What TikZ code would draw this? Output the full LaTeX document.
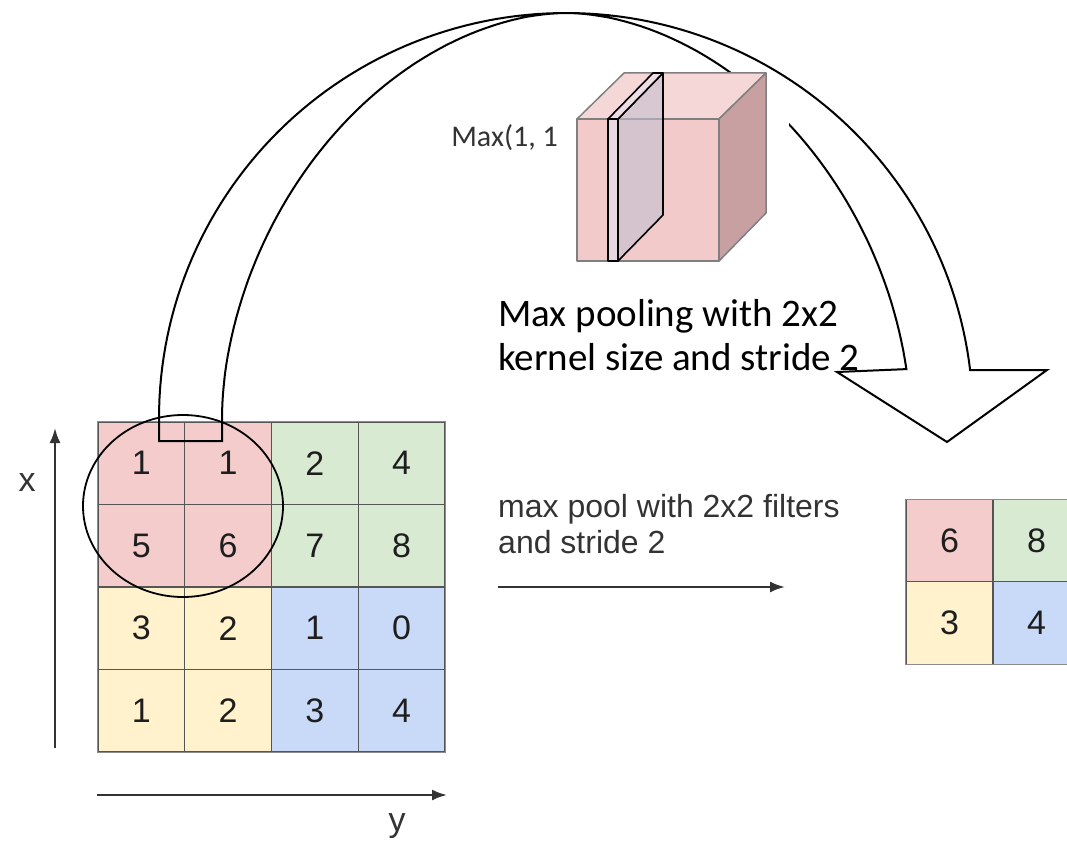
\documentclass[tikz,border=0pt]{standalone}
\usepackage{fontspec}
\setmainfont{Liberation Sans}
\newfontfamily\calibri{Carlito}
\usetikzlibrary{arrows.meta,shapes.geometric}

\definecolor{cellred}{HTML}{F4CCCC}
\definecolor{cellgreen}{HTML}{D9EAD3}
\definecolor{cellyellow}{HTML}{FFF2CC}
\definecolor{cellblue}{HTML}{C9DAF8}
\definecolor{gridline}{HTML}{555555}
\definecolor{gridframe}{HTML}{8C8C8C}
\definecolor{digit}{HTML}{1E1E1E}
\definecolor{cubefront}{HTML}{F2CACA}
\definecolor{cubetop}{HTML}{F6D7D7}
\definecolor{cubeside}{HTML}{C8A0A2}
\definecolor{cubeedge}{HTML}{7F7F7F}
\definecolor{platefront}{HTML}{E8D5E1}
\definecolor{platetop}{HTML}{EEDDE5}
\definecolor{plateside}{HTML}{C3BFCF}
\definecolor{note}{HTML}{333333}

\begin{document}
\begin{tikzpicture}[x=1pt,y=-1pt,
  cell/.style={draw=gridline, line width=1.2pt, minimum width=86.75pt,
    minimum height=82.5pt, inner sep=0pt, text=digit,
    font=\fontsize{34}{34}\selectfont},
  arch/.style={draw=black, line width=2pt},
  axisarrow/.style={draw=note, line width=2.2pt, -{Latex[length=15pt,width=11pt]}},
  cubeline/.style={draw=cubeedge, line width=1.5pt, line join=round},
  plateline/.style={draw=black, line width=1.6pt, line join=round},
  bigtext/.style={font=\calibri\fontsize{39}{45}\selectfont, inner sep=0pt, text=black},
  smalltext/.style={font=\fontsize{32}{38}\selectfont, inner sep=0pt, text=note},
  axislabel/.style={font=\fontsize{34}{34}\selectfont, inner sep=0pt, text=note}]

\useasboundingbox (0,0) rectangle (1067,845);
\clip (0,0) rectangle (1067,845);

% input feature map, 4x4
\foreach \r/\c/\v/\col in {
  1/1/1/cellred, 1/2/1/cellred, 1/3/2/cellgreen, 1/4/4/cellgreen,
  2/1/5/cellred, 2/2/6/cellred, 2/3/7/cellgreen, 2/4/8/cellgreen,
  3/1/3/cellyellow, 3/2/2/cellyellow, 3/3/1/cellblue, 3/4/0/cellblue,
  4/1/1/cellyellow, 4/2/2/cellyellow, 4/3/3/cellblue, 4/4/4/cellblue}
  \node[cell, fill=\col] (in\r\c) at ({98+86.75*(\c-0.5)}, {422+82.5*(\r-0.5)}) {\v};
\draw[gridframe, line width=1.2pt] (in11.north west) rectangle (in44.south east);

% pooled output, 2x2
\foreach \r/\c/\v/\col in {
  1/1/6/cellred, 1/2/8/cellgreen, 2/1/3/cellyellow, 2/2/4/cellblue}
  \node[cell, fill=\col] (out\r\c) at ({906+87*(\c-0.5)}, {500+82*(\r-0.5)}) {\v};
\draw[gridframe, line width=1.2pt] (out11.north west) rectangle (out22.south east);

% pooling window
\node[draw=black, line width=1.8pt, ellipse, minimum width=200pt,
  minimum height=182pt, inner sep=0pt] (window) at (183,506) {};

% axes
\coordinate (xfoot) at (55,748);
\coordinate (xhead) at (55,428);
\coordinate (yfoot) at (97,795);
\coordinate (yhead) at (447,795);
\draw[axisarrow] (xfoot) -- (xhead);
\draw[axisarrow] (yfoot) -- (yhead);
\node[axislabel] (xlab) at (27,483) {x};
\node[axislabel, anchor=base] (ylab) at (397,831) {y};

% pooling operation arrow with its caption
\coordinate (opfoot) at (498,587);
\coordinate (ophead) at (785,587);
\draw[axisarrow] (opfoot) -- (ophead);
\node[smalltext, anchor=base west] (op1) at (498,517) {max pool with 2x2 filters};
\node[smalltext, anchor=base west] (op2) at (498,553) {and stride 2};

% big curved arrow from the window to the output
\draw[arch] (159,441)
  -- plot[domain=180:353.2, samples=120, variable=\t]
     ({566+407*cos(\t)}, {418+405*sin(\t)})
  -- (1047,370) -- (947,442) -- (837,372)
  -- plot[domain=352:180, samples=120, variable=\t]
     ({566+344*sign(cos(\t))*pow(abs(cos(\t))+0.000001,1.081)},
      {418-405*pow(abs(sin(\t))+0.000001,1.081)})
  -- (222,441) -- cycle;

% clear margin to the right of the cube
\fill[white] (767,82) rectangle (789,150);

% cube with a slice
\coordinate (f1) at (577,119); \coordinate (f2) at (719,119);
\coordinate (f3) at (719,261); \coordinate (f4) at (577,261);
\coordinate (b1) at (624,73);  \coordinate (b2) at (766,73);
\coordinate (b3) at (766,213);
\filldraw[cubeline, fill=cubefront] (f1) -- (f2) -- (f3) -- (f4) -- cycle;
\filldraw[cubeline, fill=cubetop] (f1) -- (b1) -- (b2) -- (f2) -- cycle;
\filldraw[cubeline, fill=cubeside] (f2) -- (b2) -- (b3) -- (f3) -- cycle;

\coordinate (p1) at (608,119); \coordinate (p2) at (618,119);
\coordinate (p3) at (618,261); \coordinate (p4) at (608,261);
\coordinate (q1) at (653,73);  \coordinate (q2) at (663,73);
\coordinate (q3) at (663,215);
\draw[plateline, fill=plateside, fill opacity=0.6] (p2) -- (q2) -- (q3) -- (p3) -- cycle;
\filldraw[plateline, fill=platetop] (p1) -- (q1) -- (q2) -- (p2) -- cycle;
\filldraw[plateline, fill=platefront] (p1) -- (p2) -- (p3) -- (p4) -- cycle;

\node[font=\calibri\fontsize{30}{30}\selectfont, text=note, inner sep=0pt,
  anchor=base east] (maxlab) at (558,147) {Max(1, 1};

% caption of the curved arrow
\node[bigtext, anchor=base west] (cap1) at (498,326) {Max pooling with 2x2};
\node[bigtext, anchor=base west] (cap2) at (498,370) {kernel size and stride 2};

\end{tikzpicture}
\end{document}
